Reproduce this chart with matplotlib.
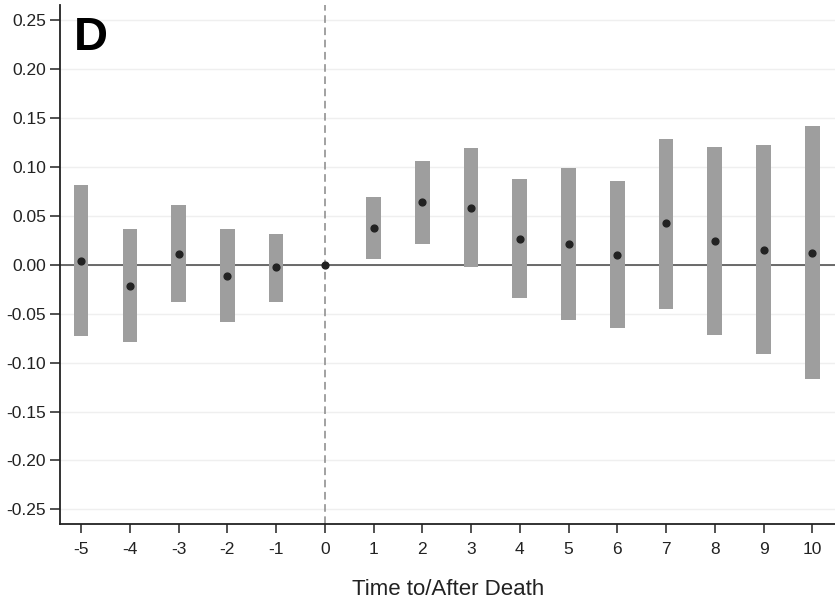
import matplotlib
matplotlib.use("Agg")
import matplotlib.pyplot as plt
import numpy as np

plt.rcParams['font.family'] = ['Liberation Sans', 'DejaVu Sans']
plt.rcParams['axes.unicode_minus'] = False

# event time relative to death
periods = [-5, -4, -3, -2, -1, 0, 1, 2, 3, 4, 5, 6, 7, 8, 9, 10]
estimate = [0.004, -0.022, 0.011, -0.012, -0.003, 0.0,
            0.037, 0.064, 0.058, 0.026, 0.021, 0.010, 0.042, 0.024, 0.015, 0.012]
ci_low = [-0.073, -0.079, -0.038, -0.059, -0.038, np.nan,
          0.006, 0.021, -0.003, -0.034, -0.057, -0.065, -0.045, -0.072, -0.091, -0.117]
ci_high = [0.081, 0.036, 0.061, 0.036, 0.031, np.nan,
           0.069, 0.106, 0.119, 0.087, 0.099, 0.085, 0.128, 0.120, 0.122, 0.141]
yticks = [-0.25, -0.20, -0.15, -0.10, -0.05, 0.00, 0.05, 0.10, 0.15, 0.20, 0.25]

x = np.array(periods)
lo = np.array(ci_low)
hi = np.array(ci_high)

fig = plt.figure(figsize=(8.35, 6.06), dpi=100)
ax = fig.add_axes([0.072, 0.135, 0.93, 0.857])

for yv in yticks:
    ax.axhline(yv, color='#efefef', lw=1.0, zorder=0)
ax.axhline(0, color='#444444', lw=1.1, zorder=1)
ax.axvline(0, color='#888888', lw=1.1, ls=(0, (5, 3)), zorder=1)

ok = ~np.isnan(lo)
ax.bar(x[ok], hi[ok] - lo[ok], bottom=lo[ok], width=0.3,
       color='#9e9e9e', zorder=2)
ax.scatter(x, estimate, s=24, color='#222222', zorder=3)

ax.set_xlim(-5.43, 10.5)
ax.set_ylim(-0.265, 0.265)
ax.set_xticks(periods)
ax.set_yticks(yticks)
ax.set_yticklabels(['%.2f' % v for v in yticks])

for s in ['top', 'right']:
    ax.spines[s].set_visible(False)
for s in ['left', 'bottom']:
    ax.spines[s].set_color('#222222')
    ax.spines[s].set_linewidth(1.3)
ax.tick_params(axis='y', length=7, width=1.1, color='#222222', labelsize=12.5,
               pad=3, labelcolor='#222222')
ax.tick_params(axis='x', length=6.5, width=1.1, color='#222222', labelsize=12.5,
               pad=6, labelcolor='#222222')

ax.set_xlabel('Time to/After Death', fontsize=16, color='#222222')
ax.xaxis.set_label_coords(0.5, -0.106)
ax.text(0.018, 0.978, 'D', transform=ax.transAxes, fontsize=34,
        fontweight='bold', va='top', ha='left')

fig.savefig('out.png', dpi=100)
